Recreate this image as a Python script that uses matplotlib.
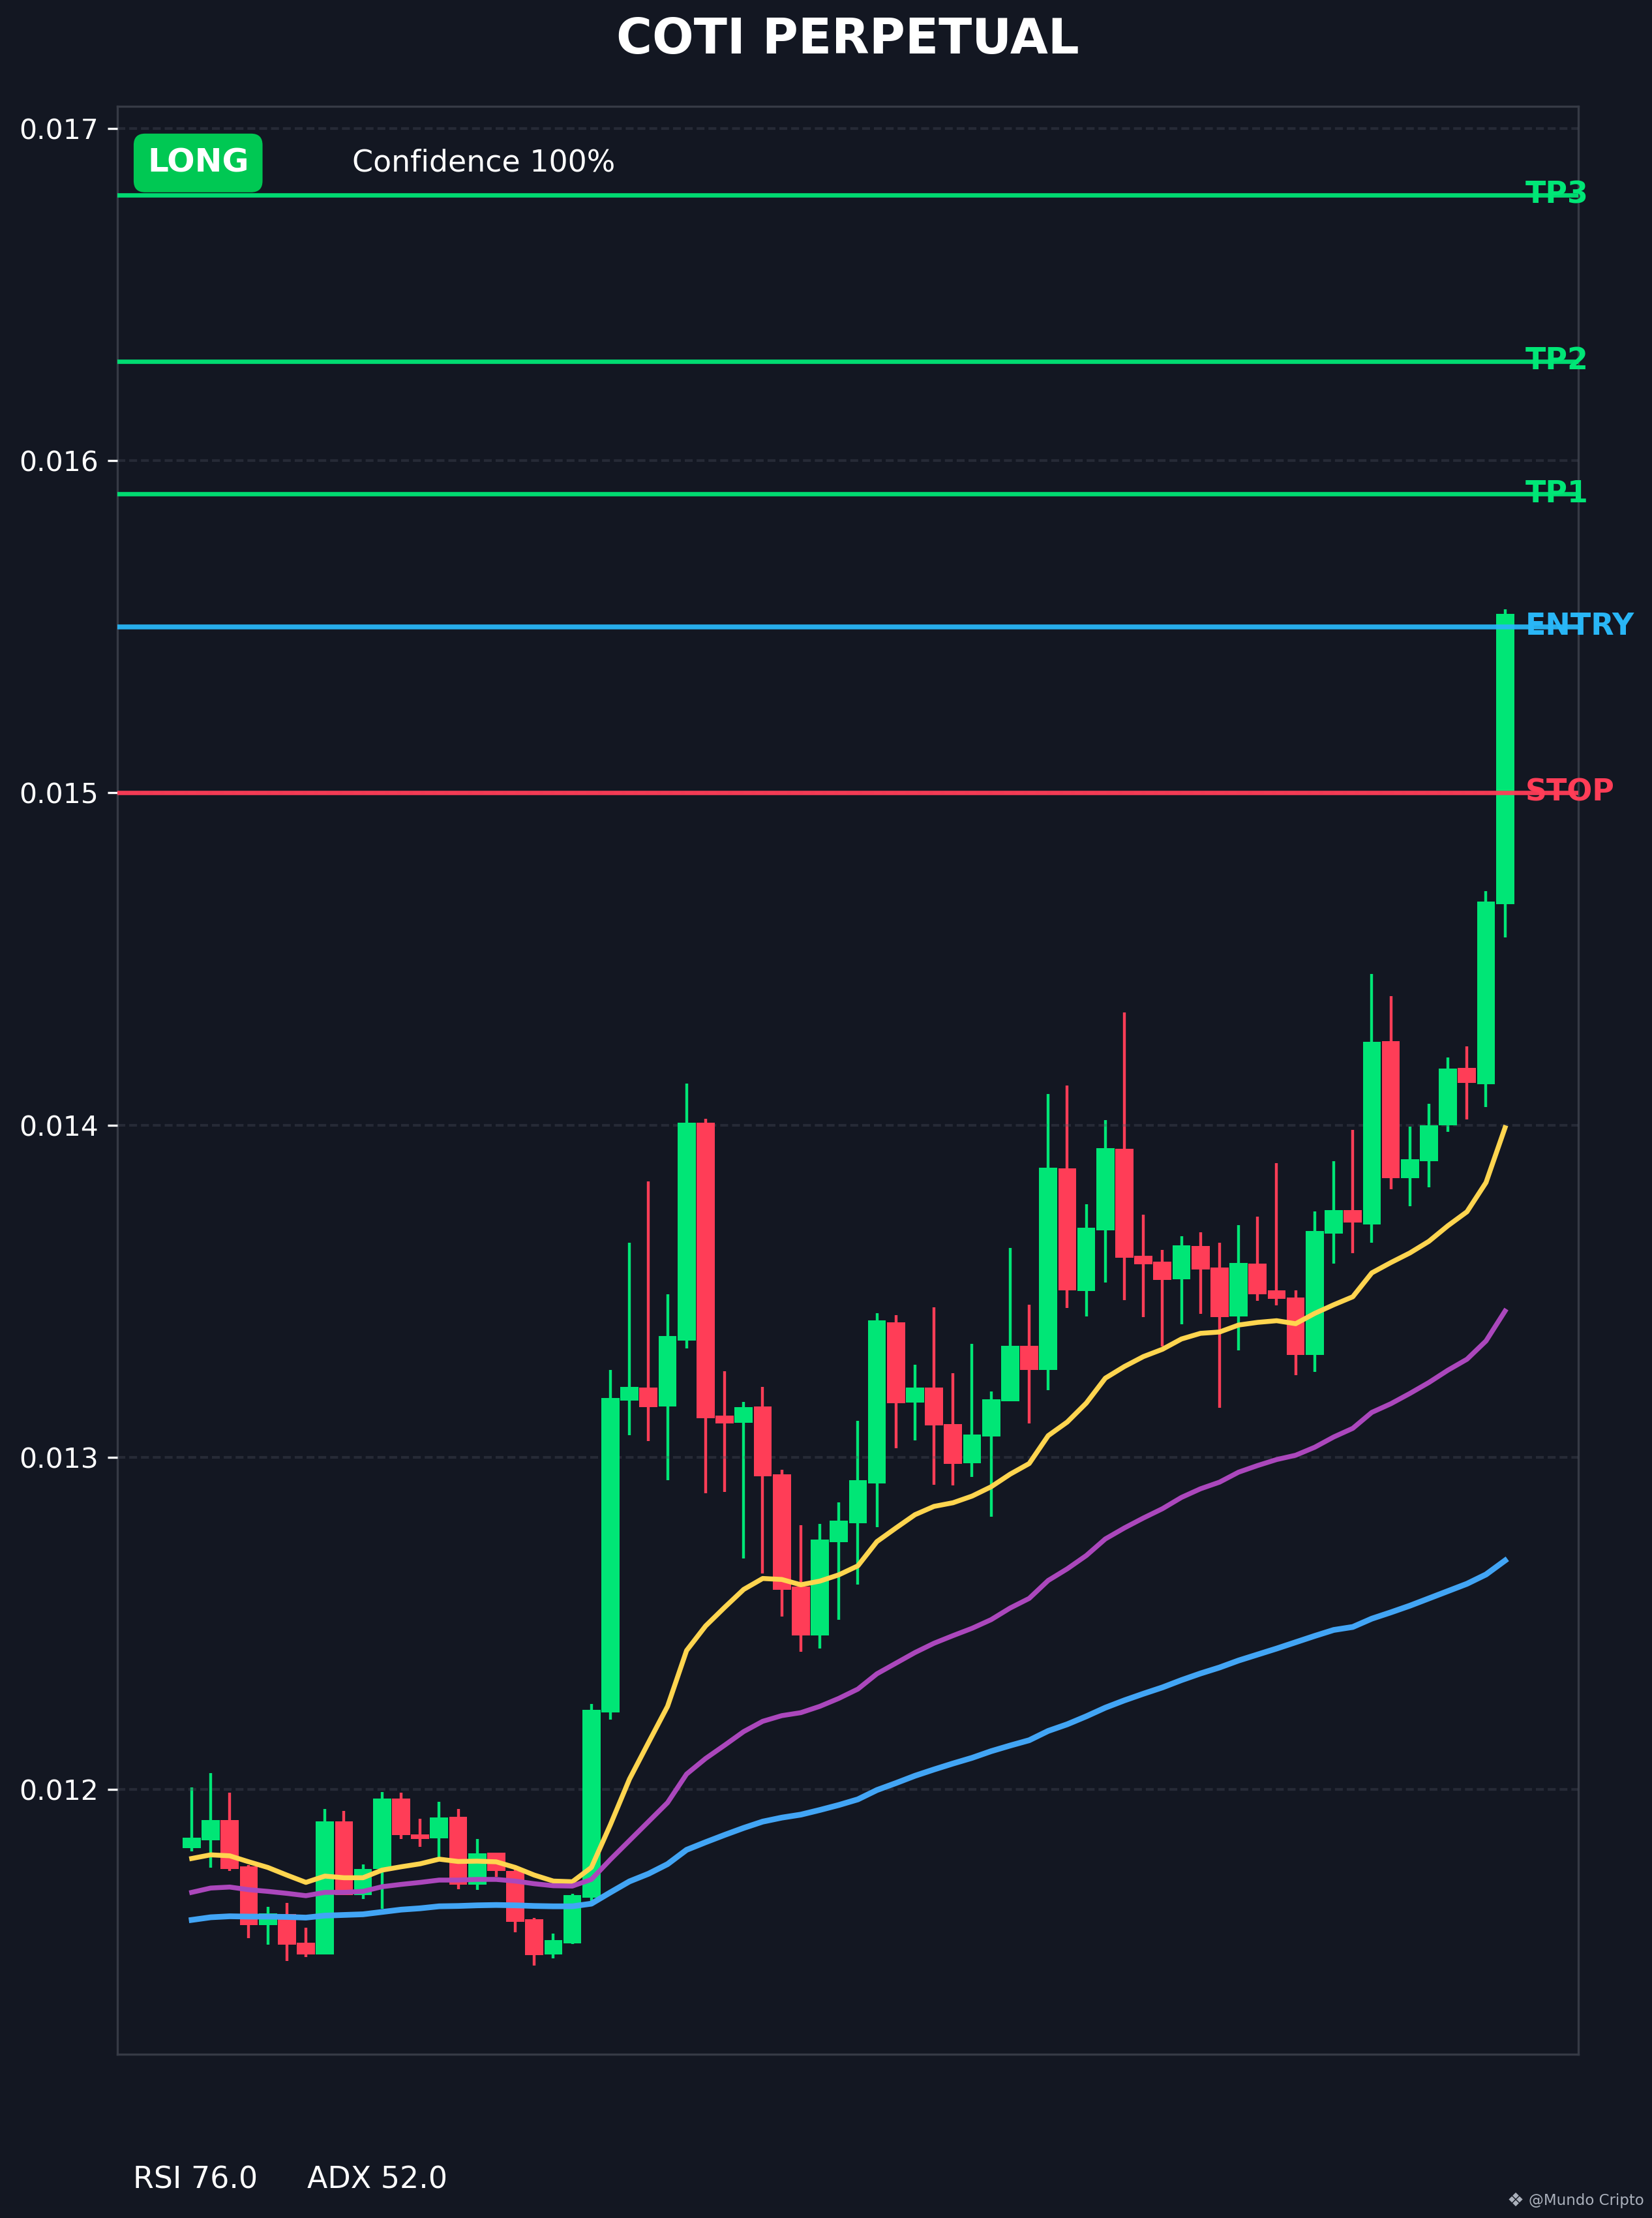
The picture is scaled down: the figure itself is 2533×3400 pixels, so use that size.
import matplotlib
matplotlib.use('Agg')
import matplotlib.pyplot as plt
import numpy as np

BG = '#131722'
UP = '#00e676'
DOWN = '#ff3d57'

# OHLC, 70 candles
opens = [
    0.011823, 0.011846, 0.011907, 0.011769, 0.011591, 0.011624, 0.011538, 0.011503, 0.011903, 0.011682,
    0.011761, 0.011973, 0.011865, 0.011852, 0.011918, 0.011713, 0.011809, 0.011754, 0.011609, 0.011503,
    0.011536, 0.011673, 0.012231, 0.013171, 0.013210, 0.013153, 0.013352, 0.014008, 0.013125, 0.013104,
    0.013153, 0.012949, 0.012611, 0.012464, 0.012744, 0.012802, 0.012922, 0.013406, 0.013165, 0.013210,
    0.013100, 0.012981, 0.013063, 0.013169, 0.013336, 0.013262, 0.013869, 0.013501, 0.013683, 0.013929,
    0.013606, 0.013588, 0.013536, 0.013636, 0.013571, 0.013423, 0.013583, 0.013502, 0.013480, 0.013308,
    0.013674, 0.013744, 0.013701, 0.014253, 0.013841, 0.013891, 0.013999, 0.014172, 0.014123, 0.014666]
highs = [
    0.012006, 0.012050, 0.011991, 0.011772, 0.011646, 0.011658, 0.011583, 0.011942, 0.011936, 0.011775,
    0.011993, 0.011991, 0.011912, 0.011963, 0.011942, 0.011850, 0.011809, 0.011760, 0.011614, 0.011565,
    0.011685, 0.012258, 0.013263, 0.013645, 0.013831, 0.013490, 0.014124, 0.014018, 0.013259, 0.013167,
    0.013212, 0.012963, 0.012796, 0.012800, 0.012865, 0.013110, 0.013433, 0.013427, 0.013278, 0.013452,
    0.013253, 0.013341, 0.013198, 0.013631, 0.013459, 0.014094, 0.014120, 0.013761, 0.014014, 0.014339,
    0.013730, 0.013624, 0.013666, 0.013677, 0.013645, 0.013698, 0.013724, 0.013885, 0.013502, 0.013741,
    0.013891, 0.013985, 0.014454, 0.014388, 0.013996, 0.014065, 0.014203, 0.014236, 0.014704, 0.015553]
lows = [
    0.011813, 0.011764, 0.011754, 0.011552, 0.011533, 0.011483, 0.011495, 0.011503, 0.011682, 0.011670,
    0.011640, 0.011850, 0.011828, 0.011795, 0.011699, 0.011697, 0.011736, 0.011569, 0.011469, 0.011491,
    0.011534, 0.011665, 0.012210, 0.013066, 0.013048, 0.012930, 0.013328, 0.012891, 0.012896, 0.012696,
    0.012650, 0.012521, 0.012415, 0.012424, 0.012510, 0.012616, 0.012789, 0.013028, 0.013050, 0.012918,
    0.012916, 0.012940, 0.012821, 0.013169, 0.013101, 0.013201, 0.013450, 0.013424, 0.013526, 0.013473,
    0.013421, 0.013334, 0.013401, 0.013432, 0.013148, 0.013321, 0.013471, 0.013458, 0.013247, 0.013257,
    0.013583, 0.013615, 0.013646, 0.013807, 0.013756, 0.013813, 0.013979, 0.014017, 0.014055, 0.014564]
closes = [
    0.011854, 0.011907, 0.011760, 0.011591, 0.011626, 0.011533, 0.011503, 0.011903, 0.011682, 0.011761,
    0.011973, 0.011862, 0.011850, 0.011916, 0.011713, 0.011807, 0.011754, 0.011601, 0.011501, 0.011546,
    0.011681, 0.012240, 0.013179, 0.013212, 0.013151, 0.013365, 0.014008, 0.013118, 0.013101, 0.013151,
    0.012942, 0.012600, 0.012464, 0.012753, 0.012810, 0.012930, 0.013412, 0.013163, 0.013210, 0.013096,
    0.012979, 0.013069, 0.013175, 0.013336, 0.013262, 0.013871, 0.013503, 0.013691, 0.013931, 0.013600,
    0.013581, 0.013534, 0.013638, 0.013565, 0.013421, 0.013585, 0.013490, 0.013476, 0.013308, 0.013681,
    0.013744, 0.013707, 0.014251, 0.013841, 0.013898, 0.013999, 0.014171, 0.014126, 0.014672, 0.015539]

# moving averages (yellow / purple / blue)
ema_fast = [
    0.011792, 0.011803, 0.011800, 0.011782, 0.011765, 0.011742, 0.011720, 0.011739, 0.011734, 0.011734,
    0.011757, 0.011767, 0.011776, 0.011790, 0.011783, 0.011784, 0.011782, 0.011765, 0.011742, 0.011724,
    0.011722, 0.011765, 0.011894, 0.012031, 0.012141, 0.012250, 0.012418, 0.012492, 0.012548, 0.012602,
    0.012635, 0.012632, 0.012616, 0.012627, 0.012646, 0.012673, 0.012746, 0.012787, 0.012827, 0.012852,
    0.012863, 0.012883, 0.012911, 0.012949, 0.012981, 0.013065, 0.013106, 0.013163, 0.013238, 0.013273,
    0.013303, 0.013325, 0.013356, 0.013373, 0.013377, 0.013398, 0.013406, 0.013411, 0.013402, 0.013433,
    0.013459, 0.013483, 0.013555, 0.013586, 0.013615, 0.013650, 0.013697, 0.013739, 0.013827, 0.013992]
ema_mid = [
    0.011690, 0.011703, 0.011706, 0.011698, 0.011693, 0.011687, 0.011680, 0.011690, 0.011690, 0.011693,
    0.011707, 0.011714, 0.011720, 0.011727, 0.011727, 0.011729, 0.011729, 0.011724, 0.011716, 0.011710,
    0.011709, 0.011729, 0.011789, 0.011846, 0.011903, 0.011960, 0.012046, 0.012093, 0.012133, 0.012174,
    0.012205, 0.012222, 0.012231, 0.012250, 0.012274, 0.012302, 0.012348, 0.012380, 0.012412, 0.012440,
    0.012463, 0.012485, 0.012511, 0.012546, 0.012575, 0.012629, 0.012664, 0.012704, 0.012754, 0.012787,
    0.012817, 0.012845, 0.012879, 0.012905, 0.012925, 0.012955, 0.012975, 0.012993, 0.013006, 0.013030,
    0.013061, 0.013087, 0.013135, 0.013161, 0.013192, 0.013225, 0.013262, 0.013295, 0.013350, 0.013440]
ema_slow = [
    0.011607, 0.011615, 0.011618, 0.011617, 0.011617, 0.011616, 0.011614, 0.011620, 0.011622, 0.011624,
    0.011631, 0.011638, 0.011642, 0.011648, 0.011649, 0.011651, 0.011652, 0.011651, 0.011649, 0.011648,
    0.011648, 0.011656, 0.011690, 0.011723, 0.011746, 0.011775, 0.011818, 0.011841, 0.011863, 0.011884,
    0.011903, 0.011915, 0.011924, 0.011938, 0.011953, 0.011970, 0.011998, 0.012019, 0.012041, 0.012060,
    0.012078, 0.012095, 0.012115, 0.012132, 0.012148, 0.012176, 0.012196, 0.012220, 0.012246, 0.012268,
    0.012288, 0.012307, 0.012329, 0.012349, 0.012367, 0.012388, 0.012406, 0.012424, 0.012443, 0.012462,
    0.012480, 0.012489, 0.012514, 0.012533, 0.012553, 0.012575, 0.012597, 0.012619, 0.012647, 0.012689]

level_names = ['TP3', 'TP2', 'TP1', 'ENTRY', 'STOP']
level_values = [0.0168, 0.0163, 0.0159, 0.0155, 0.0150]
level_colors = ['#00e676', '#00e676', '#00e676', '#29b6f6', '#ff3d57']
level_widths = [1.6, 1.6, 1.6, 1.8, 1.6]

title = 'COTI PERPETUAL'
side = 'LONG'
confidence = 'Confidence 100%'
rsi_text = 'RSI 76.0'
adx_text = 'ADX 52.0'

o = np.array(opens)
h = np.array(highs)
l = np.array(lows)
c = np.array(closes)
x = np.arange(len(o))
cols = np.where(c >= o, UP, DOWN)

fig = plt.figure(figsize=(2533 / 300, 3400 / 300), dpi=300, facecolor=BG)
ax = fig.add_axes([0.0711, 0.0738, 0.8843, 0.8782])
ax.set_facecolor(BG)

# candles
ax.vlines(x, l, h, colors=cols, linewidth=1.05, zorder=2)
ax.bar(x, np.abs(c - o), bottom=np.minimum(o, c), width=0.95, color=cols,
       linewidth=0, zorder=3)

# moving averages
ax.plot(x, ema_fast, color='#ffd54f', lw=1.8, zorder=5)
ax.plot(x, ema_mid, color='#ab47bc', lw=1.8, zorder=5)
ax.plot(x, ema_slow, color='#42a5f5', lw=2.1, zorder=5)

# trade levels
for name, val, col, lw in zip(level_names, level_values, level_colors, level_widths):
    ax.axhline(val, color=col, lw=lw, zorder=4, alpha=0.95)
    ax.text(len(o) + 0.05, val, name, color=col, fontsize=11, fontweight='bold',
            ha='left', va='center', clip_on=False, zorder=6)

lo = min(lows)
hi = max(level_values)
pad = (hi - lo) * 0.05
ax.set_ylim(lo - pad, hi + pad)
ax.set_xlim(-3.9, 72.85)

ax.yaxis.set_major_locator(plt.MultipleLocator(0.001))
ax.yaxis.set_major_formatter(plt.FormatStrFormatter('%.3f'))
ax.tick_params(axis='y', colors='white', labelsize=10.2, length=3.5, width=0.8)
ax.set_xticks([])
ax.set_axisbelow(False)
ax.grid(axis='y', color='#4a4f5c', alpha=0.35, lw=1.0, linestyle=(0, (2.9, 1.45)))
for sp in ax.spines.values():
    sp.set_color('#363a45')
    sp.set_linewidth(0.8)

ax.text(0.0552, 0.971, side, transform=ax.transAxes, ha='center', va='center',
        fontsize=12, fontweight='bold', color='white', zorder=7,
        bbox=dict(boxstyle='round,pad=0.42,rounding_size=0.35', fc='#00c853', ec='none'))
ax.text(0.1607, 0.971, confidence, transform=ax.transAxes, ha='left', va='center',
        fontsize=11, color='white', zorder=7)

fig.text(0.513, 0.982, title, ha='center', va='center', fontsize=18,
         fontweight='bold', color='white')
fig.text(0.0805, 0.0172, rsi_text, ha='left', va='center', fontsize=11, color='white')
fig.text(0.1858, 0.0172, adx_text, ha='left', va='center', fontsize=11, color='white')
fig.text(0.9225, 0.0077, '\u2756', ha='right', va='center', fontsize=7, color='#aab0bb')
fig.text(0.995, 0.0077, '@Mundo Cripto', ha='right', va='center',
         fontsize=5.5, color='#aab0bb')

fig.savefig('out.png', dpi=300, facecolor=BG)
